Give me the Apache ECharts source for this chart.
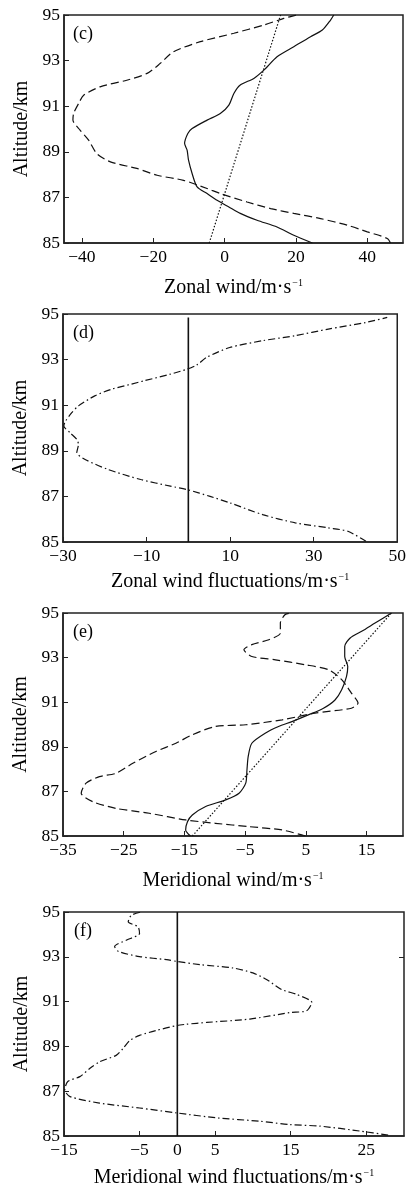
<!DOCTYPE html>
<html>
<head>
<meta charset="utf-8">
<script src="https://cdn.jsdelivr.net/npm/echarts@6/dist/echarts.min.js"></script>
<style>
  html, body { margin: 0; padding: 0; background: #fff; }
  #main { width: 409px; height: 1189px; }
</style>
</head>
<body>
<div id="main"></div>
<script>
// altitude ticks shared by all panels
var altTicks = [85, 87, 89, 91, 93, 95];

// (c) zonal wind  [value, altitude]
var zonalTicks = [-40, -20, 0, 20, 40];
var zonalSolid = [[24.6,85],[19.4,85.34],[14.7,85.7],[9.1,86.0],[4.4,86.3],[1.2,86.58],[-2.1,86.87],[-4.9,87.17],[-7.7,87.46],[-9.1,88.05],[-10.1,88.63],[-10.5,89.07],[-11.2,89.36],[-10.3,89.8],[-9.1,90.02],[-4.9,90.39],[-1.2,90.68],[1.2,91.05],[2.6,91.56],[4.4,91.93],[8.2,92.22],[11.0,92.58],[14.7,93.17],[19.4,93.61],[24.1,94.05],[27.4,94.34],[29.7,94.78],[30.6,95]];
var zonalDashed = [[46.5,85],[45.6,85.2],[40.0,85.49],[34.4,85.78],[26.9,86.07],[19.4,86.3],[12.9,86.51],[6.3,86.8],[-1.2,87.17],[-4.9,87.39],[-11.5,87.75],[-18.9,87.97],[-24.6,88.27],[-32.0,88.56],[-35.8,88.92],[-38.1,89.51],[-40.5,89.95],[-42.5,90.39],[-42.3,90.68],[-40.9,91.12],[-39.5,91.48],[-34.9,91.85],[-27.4,92.14],[-21.7,92.44],[-18.0,92.88],[-14.3,93.39],[-6.8,93.83],[2.6,94.2],[11.0,94.56],[16.6,94.85],[20.2,95]];
var zonalDotted = [[-4.3,85],[15.7,95]];

// (d) zonal wind fluctuations
var zfTicks = [-30, -10, 10, 30, 50];
var zonalFluct = [[42.5,85.03],[38.2,85.47],[33.5,85.62],[25.6,85.84],[17.8,86.2],[9.9,86.72],[5.2,87.0],[-0.3,87.3],[-4.3,87.45],[-11.4,87.74],[-19.2,88.18],[-24.7,88.62],[-26.7,88.92],[-26.3,89.28],[-26.7,89.5],[-28.3,89.79],[-29.8,90.09],[-29.4,90.3],[-27.9,90.67],[-26.3,90.97],[-22.4,91.41],[-18.4,91.7],[-13.7,91.92],[-10.6,92.07],[-4.3,92.36],[-0.3,92.58],[2.0,92.76],[4.4,93.1],[9.9,93.53],[17.8,93.83],[25.6,94.05],[33.5,94.34],[42.5,94.63],[47.6,94.85]];
var zfZero = [[0,85],[0,94.85]];

// (e) meridional wind
var merTicks = [-35, -25, -15, -5, 5, 15];
var merSolid = [[-14.0,85],[-14.8,85.27],[-14.5,85.64],[-13.7,85.94],[-11.5,86.32],[-8.2,86.62],[-6.0,86.92],[-4.9,87.37],[-4.7,87.96],[-4.5,88.56],[-3.9,89.16],[-1.7,89.61],[0.5,89.91],[2.7,90.13],[5.4,90.43],[7.9,90.73],[9.8,91.1],[10.9,91.56],[11.7,92.16],[11.9,92.6],[11.4,93.05],[11.4,93.5],[12.3,93.88],[14.2,94.18],[16.4,94.55],[19.1,95]];
var merDashed = [[4.9,85],[1.1,85.27],[-4.4,85.42],[-9.9,85.57],[-14.8,85.72],[-20.8,86.02],[-26.3,86.24],[-30.1,86.54],[-32.0,86.92],[-31.2,87.37],[-29.0,87.66],[-26.3,87.81],[-23.5,88.26],[-19.7,88.79],[-16.4,89.16],[-13.7,89.54],[-9.9,89.91],[-4.9,89.99],[1.1,90.21],[6.5,90.51],[12.5,90.73],[13.6,90.96],[12.5,91.41],[10.9,92.01],[8.7,92.46],[4.9,92.68],[0.0,92.9],[-3.9,93.05],[-5.2,93.35],[-3.9,93.58],[-1.1,93.8],[0.8,94.1],[0.8,94.55],[1.6,94.93],[2.7,95]];
var merDotted = [[-13.7,85],[19.1,95]];

// (f) meridional wind fluctuations
var mfTicks = [-15, -5, 0, 5, 15, 25];
var merFluct = [[27.9,85.04],[24.2,85.22],[18.9,85.44],[14.9,85.51],[10.9,85.66],[5.2,85.81],[-0.1,86.03],[-5.0,86.25],[-10.3,86.47],[-14.2,86.76],[-14.9,87.06],[-14.5,87.43],[-12.9,87.65],[-11.6,88.01],[-10.3,88.31],[-8.1,88.6],[-7.2,88.9],[-6.3,89.26],[-5.0,89.49],[-2.8,89.71],[-0.1,89.93],[1.2,89.99],[3.9,90.07],[9.6,90.22],[14.9,90.51],[17.1,90.59],[17.8,90.96],[15.8,91.32],[13.8,91.54],[11.8,91.99],[10.0,92.28],[7.4,92.5],[3.0,92.65],[0,92.79],[-1.4,92.87],[-5.0,93.01],[-7.8,93.24],[-8.3,93.46],[-6.7,93.75],[-5.0,94.04],[-5.2,94.34],[-6.5,94.56],[-6.1,94.85],[-4.8,95]];
var mfZero = [[0,85],[0,95]];

var FONT = 'Liberation Serif';
var BOX = '#222';

function xAx(gi, min, max, ticks, name, gap) {
  return {
    type: 'value', gridIndex: gi, min: min, max: max,
    name: name, nameLocation: 'middle', nameGap: gap,
    nameTextStyle: {
      fontFamily: FONT, fontSize: 20, color: '#000',
      rich: { sup: { fontFamily: FONT, fontSize: 10, color: '#000', verticalAlign: 'top', padding: [0, 0, 8, 1] } }
    },
    axisLine: { show: true, onZero: false, lineStyle: { color: BOX, width: 1.5 } },
    axisTick: { show: true, inside: true, length: 5, customValues: ticks, lineStyle: { color: BOX } },
    axisLabel: { customValues: ticks, margin: 5, fontFamily: FONT, fontSize: 17.5, color: '#000',
      formatter: function (v) { return String(v).replace('-', '\u2212'); } },
    splitLine: { show: false }
  };
}

function yAx(gi) {
  return {
    type: 'value', gridIndex: gi, min: 85, max: 95,
    name: 'Altitude/km', nameLocation: 'middle', nameGap: 32,
    nameTextStyle: { fontFamily: FONT, fontSize: 20, color: '#000' },
    axisLine: { show: true, onZero: false, lineStyle: { color: BOX, width: 1.5 } },
    axisTick: { show: true, inside: true, length: 5, customValues: altTicks, lineStyle: { color: BOX } },
    axisLabel: { customValues: altTicks, margin: 4, fontFamily: FONT, fontSize: 17.5, color: '#000' },
    splitLine: { show: false }
  };
}

function line(gi, data, type, width) {
  return {
    type: 'line', xAxisIndex: gi, yAxisIndex: gi, data: data,
    symbol: 'none', smooth: 0.25, silent: true, animation: false,
    lineStyle: { color: '#111', width: width || 1.2, type: type }
  };
}

var dashed = [8, 4];
var dotted = [1.5, 1.8];
var dashDot = [7, 3, 1.5, 3];

var myChart = echarts.init(document.getElementById('main'));
myChart.setOption({
  animation: false,
  backgroundColor: '#fff',
  grid: [
    { left: 64, top: 15, width: 339, height: 228, show: true, borderColor: BOX, borderWidth: 1.5 },
    { left: 63, top: 314, width: 343, height: 228, show: true, borderColor: BOX, borderWidth: 1.5 },
    { left: 63, top: 613, width: 340, height: 223, show: true, borderColor: BOX, borderWidth: 1.5 },
    { left: 64, top: 912, width: 340, height: 226, show: true, borderColor: BOX, borderWidth: 1.5 }
  ],
  xAxis: [
    xAx(0, -45, 50, zonalTicks, 'Zonal wind/m\u00b7s{sup|\u22121}', 35),
    xAx(1, -30, 50, zfTicks, 'Zonal wind fluctuations/m\u00b7s{sup|\u22121}', 30),
    xAx(2, -35, 21, merTicks, 'Meridional wind/m\u00b7s{sup|\u22121}', 35),
    xAx(3, -15, 30, mfTicks, 'Meridional wind fluctuations/m\u00b7s{sup|\u22121}', 32)
  ],
  yAxis: [
    yAx(0), yAx(1), yAx(2), yAx(3),
    {
      type: 'value', gridIndex: 3, position: 'right', min: 85, max: 95,
      axisLine: { show: false, onZero: false },
      axisTick: { show: true, inside: true, length: 5, customValues: [93], lineStyle: { color: BOX } },
      axisLabel: { show: false }, splitLine: { show: false }
    }
  ],
  graphic: [
    { type: 'text', left: 73, top: 25, style: { text: '(c)', font: '18px "Liberation Serif"', fill: '#000' } },
    { type: 'text', left: 73, top: 324, style: { text: '(d)', font: '18px "Liberation Serif"', fill: '#000' } },
    { type: 'text', left: 73, top: 623, style: { text: '(e)', font: '18px "Liberation Serif"', fill: '#000' } },
    { type: 'text', left: 74, top: 922, style: { text: '(f)', font: '18px "Liberation Serif"', fill: '#000' } }
  ],
  series: [
    line(0, zonalSolid, 'solid'),
    line(0, zonalDashed, dashed),
    line(0, zonalDotted, dotted),
    line(1, zonalFluct, dashDot),
    line(1, zfZero, 'solid', 1.6),
    line(2, merSolid, 'solid'),
    line(2, merDashed, dashed),
    line(2, merDotted, dotted),
    line(3, merFluct, dashDot),
    line(3, mfZero, 'solid', 1.6)
  ]
});
</script>
</body>
</html>
